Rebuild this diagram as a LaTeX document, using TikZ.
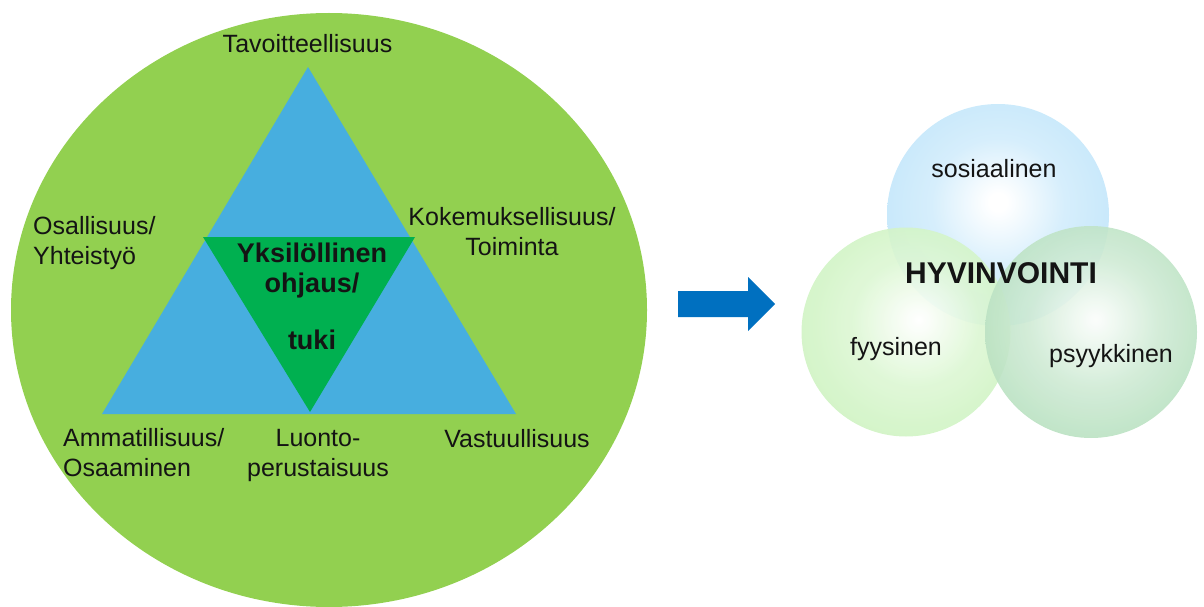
\documentclass[tikz,border=0pt]{standalone}
\usepackage{fontspec}
\setmainfont{Liberation Sans}
\usetikzlibrary{shapes.geometric}
\definecolor{ringgreen}{HTML}{92D050}
\definecolor{triblue}{HTML}{47AEDF}
\definecolor{coregreen}{HTML}{00B050}
\definecolor{arrowblue}{HTML}{0070C0}
\definecolor{txt}{HTML}{141414}
\definecolor{sosedge}{HTML}{C0E5FA}
\definecolor{fyyedge}{HTML}{CAF2BC}
\definecolor{psyedge}{HTML}{B0DDB9}
\pgfdeclareradialshading{sosshade}{\pgfpoint{0bp}{3bp}}{color(0bp)=(white); color(2bp)=(white); color(15bp)=(sosedge!65!white); color(32bp)=(sosedge); color(60bp)=(sosedge)}
\pgfdeclareradialshading{fyyshade}{\pgfpoint{3bp}{3bp}}{color(0bp)=(white); color(2bp)=(white!92!fyyedge); color(15bp)=(fyyedge!65!white); color(32bp)=(fyyedge); color(60bp)=(fyyedge)}
\pgfdeclareradialshading{psyshade}{\pgfpoint{1bp}{3bp}}{color(0bp)=(white!94!psyedge); color(2bp)=(white!88!psyedge); color(15bp)=(psyedge!60!white); color(32bp)=(psyedge); color(60bp)=(psyedge)}
\tikzset{
  lbl/.style={font=\fontsize{25}{30}\selectfont, text=txt, inner sep=0pt},
  corelbl/.style={font=\fontsize{27}{30}\selectfont\bfseries, text=txt, inner sep=0pt, align=center},
  sphere/.style={circle, inner sep=0pt, shade},
}
\begin{document}
\begin{tikzpicture}[x=1pt,y=-1pt]
\useasboundingbox (0,0) rectangle (1204,607);
% big green disc
\node[ellipse, fill=ringgreen, minimum width=636pt, minimum height=594pt, inner sep=0pt] (ring) at (329,310) {};
% blue triangle
\coordinate (tA) at (308,67);
\coordinate (tL) at (102,414);
\coordinate (tR) at (516,414);
\fill[triblue] (tA) -- (tL) -- (tR) -- cycle;
% inner green triangle
\coordinate (iL) at (203,237);
\coordinate (iR) at (415,237);
\coordinate (iB) at (310,412);
\fill[coregreen] (iL) -- (iR) -- (iB) -- cycle;
% labels
\node[lbl, anchor=base] (tav) at (307.5,53) {Tavoitteellisuus};
\node[lbl, anchor=west, align=left] (osa) at (33,243) {Osallisuus/\\Yhteistyö};
\node[lbl, align=center] (kok) at (512,232) {Kokemuksellisuus/\\Toiminta};
\node[lbl, anchor=west, align=left] (amm) at (63,453) {Ammatillisuus/\\Osaaminen};
\node[lbl, align=center] (luo) at (318,455) {Luonto-\\perustaisuus};
\node[lbl, anchor=base] (vas) at (517,447) {Vastuullisuus};
\node[corelbl] (core) at (312,296) {Yksilöllinen\\ohjaus/\\[27pt]tuki};
% arrow
\fill[arrowblue] (678,291) -- (748,291) -- (748,277) -- (775,304) -- (748,331) -- (748,317) -- (678,317) -- cycle;
% spheres
\node[sphere, minimum size=222pt, shading=sosshade] (sos) at (998,215) {};
\node[sphere, minimum size=209pt, shading=fyyshade, fill opacity=0.9] (fyy) at (906,332) {};
\node[sphere, minimum size=212pt, shading=psyshade, fill opacity=0.9] (psy) at (1091,332) {};
\node[lbl, anchor=base, font=\fontsize{25}{30}\selectfont] (sosl) at (994,177) {sosiaalinen};
\node[lbl, anchor=base, font=\fontsize{30}{34}\selectfont\bfseries] (hyv) at (1001,283) {HYVINVOINTI};
\node[lbl, anchor=base] (fyyl) at (896,355) {fyysinen};
\node[lbl, anchor=base] (psyl) at (1111,362) {psyykkinen};
\end{tikzpicture}
\end{document}
